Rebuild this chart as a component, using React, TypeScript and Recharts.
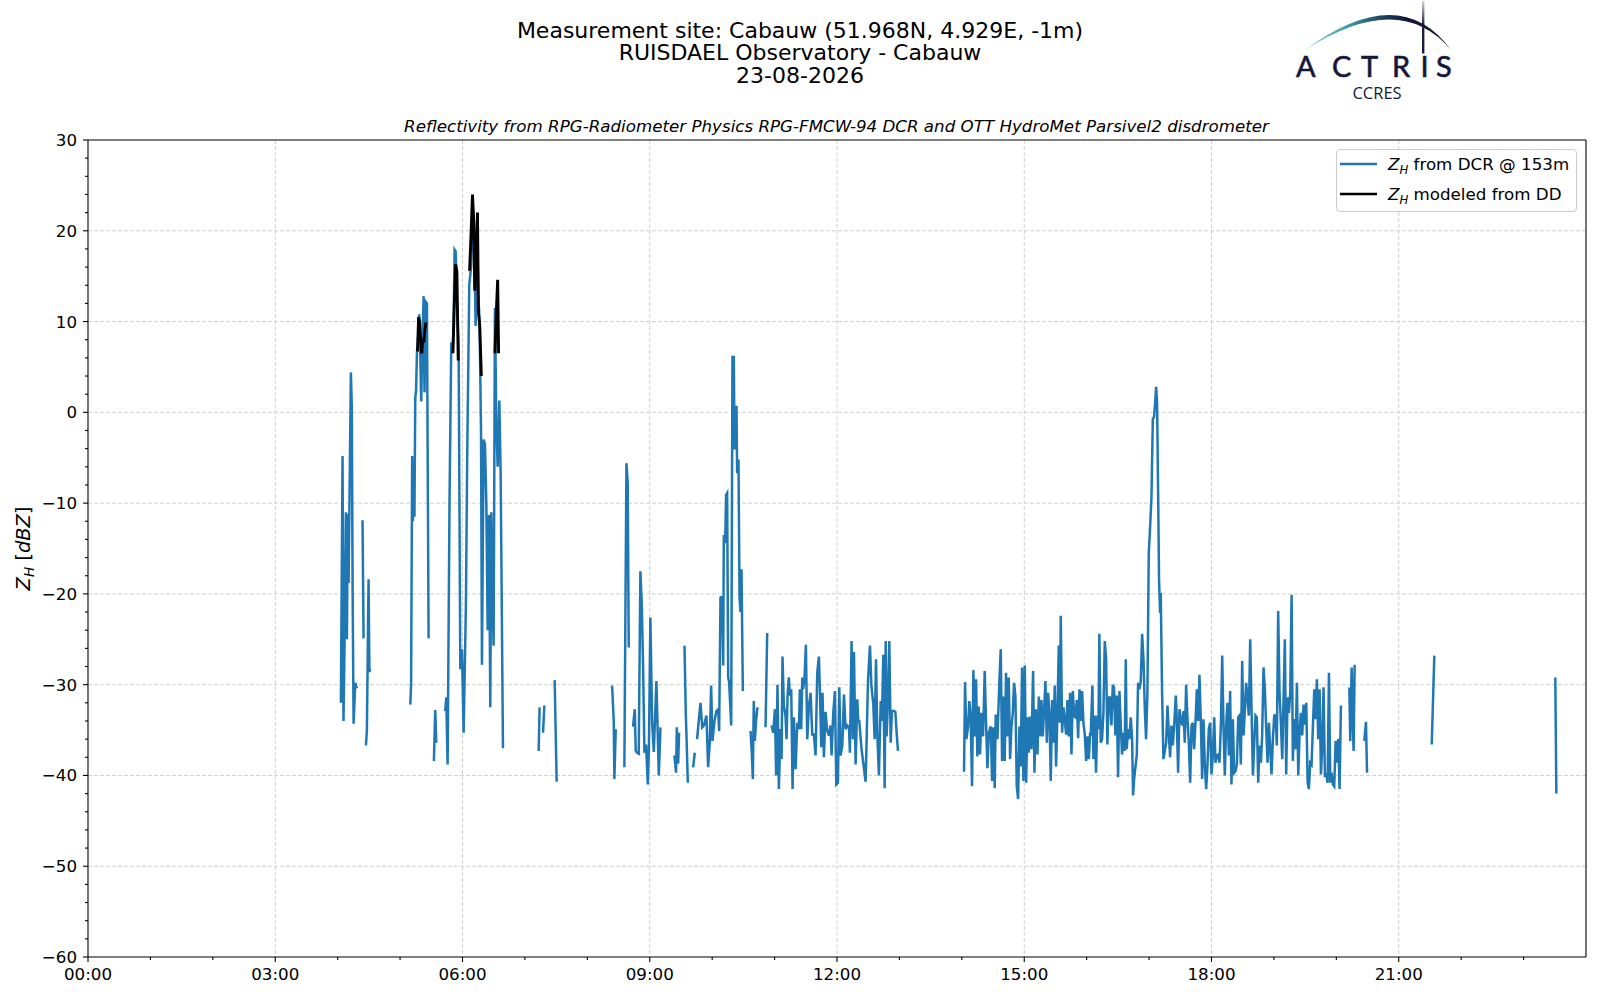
import { CartesianGrid, Legend, Line, LineChart, ReferenceLine, XAxis, YAxis } from 'recharts'

// time in minutes after 00:00 UTC, reflectivity in dBZ
const dcr0403: [number, number][] = [
  [243.1, -32], [244.7, -4.8], [245.6, -34], [246.6, -25.5], [247.9, -11], [248.9, -25], [249.7, -11.2],
  [250.5, -18.8], [252.7, 4.4], [253.6, 0.5], [254.4, -20], [255.3, -34.3], [256.9, -29.8], [258.5, -30.4],
]
const dcr0424: [number, number][] = [[263.9, -11.9], [264.9, -24.9]]
const dcr0427: [number, number][] = [[267.2, -36.7], [268.1, -35], [269.7, -18.4], [270.5, -28.6], [271.3, -28.3]]
const dcr0510: [number, number][] = [
  [309.8, -32.2], [310.6, -30], [311.6, -4.8], [312.3, -12], [313, -5.5], [313.8, -11.5], [314.6, 1.6],
  [315.4, 2.5], [316.2, 6.5], [317.2, 8], [318.4, 10.8], [319.4, 6.5], [320.3, 1.2], [321.3, 6.5],
  [322.6, 12.8], [323.5, 2.2], [324.5, 12.2], [325.8, 12], [327.4, -24.9],
]
const dcr0532: [number, number][] = [[332.5, -38.4], [333.8, -32.8], [334.8, -36.4]]
const dcr0543: [number, number][] = [
  [343.4, -32.9], [344.4, -31.4], [345.7, -38.8], [347.5, -10], [349.2, 7.7], [350.5, 6.5], [351.5, 10],
  [352.4, 17.9], [353.4, 17.7], [354.7, 12.2], [356.3, 7], [357.9, -28.3], [359.5, -26.1], [361.1, -35.3],
  [363.3, -21], [364.5, -5], [366.5, 14], [368.2, 16], [370.1, 22], [371.3, 19], [372.6, 9.5], [373.9, 21],
  [375.2, 13], [376.4, 10], [377.8, -2], [378.7, -27.8], [380.3, -3], [381.6, -3.5], [382.9, -10],
  [384.2, -24], [385.5, -11.3], [386.7, -32.5], [387.7, -11], [388.8, -20], [389.9, -25.7], [391.2, 11.5],
  [392.5, -1], [393.8, -6], [395.4, 1.3], [396.7, -7], [398.9, -37],
]
const dcr0713: [number, number][] = [[433.2, -37.3], [434.1, -32.5]]
const dcr0717: [number, number][] = [[437.4, -35.3], [438.7, -32.3]]
const dcr0728: [number, number][] = [[448.6, -29.5], [450.5, -40.7]]
const dcr0823: [number, number][] = [[503.8, -30.1], [505.4, -34], [506, -40.4], [507.3, -34.9]]
const dcr0835: [number, number][] = [[515.6, -39.1], [517.6, -5.6], [518.8, -7.8], [519.8, -25.9]]
const dcr0843: [number, number][] = [
  [523, -34.5], [524, -34.5], [525.6, -32.7], [526.5, -37.3], [527.8, -37.5], [529.4, -37.6], [531, -17.5],
  [532.3, -21], [533.6, -28], [534.9, -37.5], [536.5, -36.6], [538.1, -41], [539.2, -37], [540.6, -22.6],
  [542.3, -34.2], [543.9, -37.4], [546.4, -29.6], [548.7, -40], [550.3, -34.7],
]
const dcr0923: [number, number][] = [[563.7, -37.8], [565.3, -39.7], [566, -34.7], [567.3, -38.7], [568.2, -35.3]]
const dcr0933: [number, number][] = [[573.4, -25.7], [574.6, -33], [575.3, -35.6], [576.6, -40.8]]
const dcr0941: [number, number][] = [[581.7, -39.1], [583.3, -37.5]]
const dcr0945: [number, number][] = [
  [585.5, -36], [587.1, -34], [588.8, -32], [590.4, -34.7], [592, -34.5], [594.5, -33.4], [596.1, -39.1],
  [597.7, -36.4], [599, -30.1], [600.3, -36.2], [602.2, -34], [604.1, -32.9], [605.8, -32.7], [606.7, -35.1],
  [608, -20.4], [609.6, -20.3], [610.6, -27.9], [611.2, -13.5], [612.5, -14.4], [613.4, -9.1], [614.4, -8.9],
  [615.4, -29.2], [616.3, -29.7], [618.3, -34.5], [619.5, 6.1], [620.8, 6.1], [621.5, -4.1], [622.4, 0.6],
  [623.4, 0.6], [624, -6.7], [625.3, -5.2], [626.3, -20.3], [627.2, -22], [628.2, -17.3], [629.5, -30.7],
]
const dcr1036: [number, number][] = [
  [636.9, -35.1], [638.1, -37.5], [639.1, -40.4], [640, -31.8], [641, -36.2], [642.2, -34], [643.3, -32.7], [643.9, -32.5],
]
const dcr1051: [number, number][] = [[651.3, -34.7], [652.9, -24.3]]
const dcr1057: [number, number][] = [
  [657.1, -34.5], [658.7, -35.3], [660.3, -32.7], [661.5, -40], [662.8, -30], [664.1, -41.5], [665.7, -34.9],
  [666.7, -38.2], [667.6, -26.9], [668.9, -32.3], [670.5, -33.4], [671.5, -36], [672.5, -31.2], [673.7, -29.2],
  [674.7, -31.2], [676, -30.5], [677.3, -41.5], [678.5, -33.6], [680.2, -39.3], [681.8, -34.2], [683.4, -34.9],
  [684.3, -30.5], [685.6, -34.9], [686.6, -29.2], [687.5, -30.5], [688.8, -29.2], [690.1, -25.6], [691.4, -36],
  [693, -32.3], [694.6, -30.9], [696.2, -35.5], [697.8, -35.5], [699.4, -37.8], [701, -28.7], [702.6, -26.9],
  [703.6, -30.9], [704.9, -36.9], [706.1, -30.9], [707.4, -38], [709, -33], [710.5, -35], [712.2, -35.6],
  [713.8, -34.5], [714.8, -37.8], [716.4, -33.1], [718, -30.7], [719.3, -41], [720.9, -40.8], [722.2, -30.3],
  [723.5, -37.8], [725.1, -36.7], [726.7, -31.1], [728.3, -34.9], [729.9, -34.5], [731.5, -34.7], [732.4, -37.5],
  [734, -25.2], [735.3, -36], [736.3, -26.4], [737.9, -38.8], [739.5, -31.6], [740.4, -34], [741.4, -34],
  [743.5, -37], [747.5, -40.7], [749.8, -29.6], [751.7, -25.7], [753, -30], [754.9, -32.2], [756.2, -36],
  [757.5, -27.2], [758.7, -35.3], [760.3, -40], [762, -31.8], [763.2, -34], [764.5, -26.7], [765.8, -41.4],
  [766.8, -25.2], [767.7, -35.7], [769, -31.8], [770.3, -25.2], [771.6, -36.4], [772.8, -32.9], [774.8, -32.9],
  [776.1, -33], [777.3, -35.3], [778.6, -37.3],
]
const dcr1402: [number, number][] = [
  [842.1, -39.6], [843.1, -29.7], [844.4, -36], [846, -34.6], [847.2, -31.8], [848.5, -33.5], [849.8, -41.2],
  [851.1, -28.4], [852.4, -35.7], [853.7, -29.4], [854.9, -37.9], [856.2, -32.4], [857.5, -37.7], [858.8, -33.1],
  [860.4, -35.7], [862, -28.5], [863.3, -34.2], [864.6, -39.2], [865.9, -35.3], [867.8, -34.6], [869.1, -40.6],
  [870.3, -34.7], [871.6, -41.4], [872.6, -33.3], [874.2, -36], [876.1, -29.6], [877.4, -26.1], [878.7, -38.4],
  [880, -31.3], [881.2, -38.4], [882.5, -28.7], [883.8, -35.7], [885.1, -29.2], [886.4, -38.2], [887.7, -34.6],
  [889, -33.1], [890.2, -29.8], [891.5, -31.3], [892.8, -41.2], [894.1, -42.6], [895.4, -34.6], [896.6, -39],
  [897.9, -28.1], [899.2, -40.6], [900.5, -27.9], [901.8, -40.8], [903.1, -33.6], [904.3, -37.5], [905.6, -33.5],
  [906.9, -37.1], [908.5, -28.5], [909.8, -39.7], [911.1, -32.7], [912.7, -37.7], [914, -31.3], [915.2, -35.7],
  [916.5, -31.7], [917.8, -35.7], [919.1, -32.7], [920.4, -29.6], [921.7, -36.4], [922.9, -30.9], [924.2, -33.1],
  [925.5, -40.6], [926.8, -31.7], [928.1, -36.4], [929.3, -30.1], [930.6, -39], [931.9, -33.1], [933.2, -25.7],
  [934.2, -34.2], [935.1, -22.4], [936.4, -35.3], [937.7, -32.5], [939, -34], [940.3, -35.5], [941.5, -31.7],
  [942.8, -35.7], [944.1, -30.9], [945.4, -37.7], [946.7, -30.7], [948, -33.5], [949.2, -33.6], [950.5, -31.7],
  [951.8, -35.9], [953.1, -30.5], [954.4, -34], [955.6, -30.7], [956.9, -34.2], [958.2, -35.5], [959.5, -38.4],
  [960.8, -35.7], [962.1, -38.2], [963.3, -35.3], [963.9, -35.6], [965.5, -30.1], [966.5, -38.2], [967.7, -33.4],
  [969, -39.7], [970.3, -33.4], [971.3, -34.9], [972.2, -24.4], [973.5, -36.4], [974.8, -36], [976.1, -33.1],
  [977.4, -25.2], [978.7, -27.2], [979.9, -36.6], [981.2, -31.4], [982.5, -31.4], [983.8, -34.5], [985.1, -30],
  [986.3, -30.3], [987.6, -35.6], [988.9, -31.2], [990.2, -40.2], [991.5, -30.7], [992.8, -34.5], [994, -37.7],
  [995.3, -35.3], [996.6, -37.3], [997.6, -27.2], [998.5, -37.1], [999.8, -34.9], [1001.1, -36], [1002.4, -33.6],
  [1003.7, -36], [1004.6, -42.2], [1005.6, -40.4], [1008.2, -37.7], [1009.4, -29.8], [1010.7, -30.5], [1012, -29.6],
  [1013.3, -24.4], [1014.6, -27.2], [1015.9, -32.7], [1017.1, -36], [1018.4, -30.9], [1019.7, -15.5], [1021, -12.6],
  [1022.3, -9.3], [1023.6, -0.7], [1024.8, -0.5], [1025.8, 1], [1026.8, 2.8], [1027.7, 1], [1028.7, -8.9],
  [1029.6, -18.6], [1030.6, -22.1], [1031.2, -19.9], [1032.5, -30.9], [1033.8, -38.2], [1035.1, -37.3],
  [1036.4, -36.4], [1037.7, -32.3], [1038.9, -35.3], [1040.2, -38], [1041.5, -34.5], [1042.8, -36.7],
  [1044.1, -34.5], [1045.7, -31.2], [1046.6, -33.8], [1047.9, -39.7], [1049.2, -32.7], [1050.5, -33.8],
  [1051.8, -34.5], [1053.1, -32.9], [1054.3, -36.4], [1055.6, -30], [1056.9, -33.8], [1058.2, -36.4],
  [1059.5, -40.8], [1060.8, -34.5], [1062, -34.2], [1063.3, -37.1], [1064.6, -34.2], [1065.9, -30.5],
  [1067.2, -34], [1068.4, -28.9], [1069.7, -33.8], [1071, -40.4], [1072.3, -33.8], [1073.6, -38.9],
  [1074.9, -41.5], [1076.1, -38.9], [1077.4, -34.9], [1078.7, -34.2], [1080, -39.9], [1081.3, -37.7],
  [1082.6, -33.6], [1083.8, -38.6], [1085.1, -37.8], [1086.4, -37.7], [1087.7, -38.6], [1089, -34.5],
  [1090.3, -26.8], [1091.5, -34.5], [1092.8, -40], [1094.1, -34.4], [1095.4, -32], [1096.7, -37.8],
  [1097.9, -30.7], [1099.2, -41], [1100.5, -33.8], [1101.8, -39.7], [1103.1, -39.5], [1104.4, -38.8],
  [1105.7, -33.6], [1106.9, -33.4], [1108.2, -38.8], [1109.5, -27.4], [1110.8, -35.6], [1112.1, -32.7],
  [1113.3, -29.8], [1114.6, -31.6], [1115.9, -33.4], [1117.2, -25], [1118.5, -32.7], [1119.8, -40],
  [1121, -36.7], [1122.3, -33.4], [1123.6, -33.6], [1124.9, -40.8], [1126.2, -36.7], [1127.5, -38.6],
  [1128.7, -35.6], [1130, -28.1], [1131.3, -30.5], [1132.6, -34.9], [1133.9, -38.6], [1135.2, -34.2],
  [1136.4, -36.9], [1137.7, -39.9], [1139, -36], [1140.3, -33.4], [1141.6, -33.4], [1142.8, -36.7],
  [1144.1, -21.9], [1145.4, -30.9], [1146.7, -34.2], [1148, -38.2], [1149.3, -31.4], [1150.5, -25],
  [1151.8, -39.9], [1153.1, -31.4], [1154.4, -33.1], [1155.7, -30.9], [1157, -20.1], [1158.2, -38.4],
  [1159.5, -33.8], [1160.8, -37.1], [1162.1, -29.8], [1163.4, -40], [1164.7, -35.3], [1165.9, -33.1],
  [1167.2, -35.6], [1168.5, -32.2], [1169.8, -34.4], [1171.1, -32], [1172.4, -40.8], [1173.6, -41.5],
  [1174.9, -38.6], [1176.2, -38.8], [1177.5, -34.5], [1178.8, -30.5], [1180.1, -33.8], [1181.3, -29.4],
  [1182.6, -36], [1183.9, -30.5], [1185.2, -39.9], [1186.5, -36.7], [1187.7, -30.3], [1189, -40],
  [1190.3, -39.9], [1191.6, -40.8], [1192.9, -28.7], [1194.2, -40.8], [1195.4, -39.7], [1196.7, -41],
  [1198, -41.2], [1199.3, -36.2], [1200.6, -38.6], [1201.9, -36], [1203.1, -41.5], [1204.4, -32.3],
]
const dcr2012: [number, number][] = [[1212.5, -30.3], [1213.4, -36.2], [1214.7, -28.1], [1215.7, -33.4], [1216.6, -37.3], [1217.6, -27.8]]
const dcr2027: [number, number][] = [[1226.9, -36.2], [1228.5, -34.1], [1229.5, -39.7]]
const dcr2132: [number, number][] = [[1291.7, -36.6], [1294.2, -26.8]]
const dcr2330: [number, number][] = [[1410.5, -29.2], [1411.5, -42]]

const dd0517: [number, number][] = [
  [316.8, 6.7], [317.8, 10.5], [318.8, 10], [319.8, 8], [320.8, 6.5], [321.8, 8.1], [322.8, 7.7], [323.8, 9], [324.8, 9.9],
]
const dd0551: [number, number][] = [[350.8, 6.5], [352.2, 12.2], [353.4, 16.3], [354.6, 15.5], [355.9, 5.7]]
const dd0607: [number, number][] = [
  [366.8, 15.6], [368.2, 19.6], [369.6, 24], [370.6, 21.6], [371.8, 13.4], [373.1, 17.5], [374.4, 22], [375.3, 11],
  [376.6, 9.5], [378.1, 4],
]
const dd0631: [number, number][] = [[391.2, 6.5], [392.5, 11], [393.8, 14.6], [394.7, 6.5]]

const xTicks = Array.from({ length: 24 }, (_, h) => h * 60)
const xGrid = [180, 360, 540, 720, 900, 1080, 1260]
const yTicks = Array.from({ length: 46 }, (_, i) => -60 + i * 2)
const yGrid = [-50, -40, -30, -20, -10, 0, 10, 20]

const FONT = '"DejaVu Sans", sans-serif'
const BLUE = '#1f77b4'
const NAVY = '#15173a'

function joinSegments(segs: [number, number][][]) {
  const out: { t: number; v: number | null }[] = []
  segs.forEach((seg) => {
    seg.forEach(([t, v]) => out.push({ t, v }))
    out.push({ t: seg[seg.length - 1][0] + 0.05, v: null })
  })
  return out
}

const dcrData = joinSegments([
  dcr0403, dcr0424, dcr0427, dcr0510, dcr0532, dcr0543, dcr0713, dcr0717, dcr0728, dcr0823, dcr0835, dcr0843,
  dcr0923, dcr0933, dcr0941, dcr0945, dcr1036, dcr1051, dcr1057, dcr1402, dcr2012, dcr2027, dcr2132, dcr2330,
])
const ddData = joinSegments([dd0517, dd0551, dd0607, dd0631])

const hhmm = (m: number) => `${String(Math.floor(m / 60)).padStart(2, '0')}:00`

function XTick(props: any) {
  const { x, y, payload } = props
  const axisY = y - 8
  const major = payload.value % 180 === 0
  return (
    <g>
      <line x1={x} x2={x} y1={axisY} y2={axisY + (major ? 5 : 3)} stroke="#000" strokeWidth={1.1} />
      {major && (
        <text x={x} y={axisY + 22.5} textAnchor="middle" fontSize={16.7} fontFamily={FONT} fill="#000">
          {hhmm(payload.value)}
        </text>
      )}
    </g>
  )
}

function YTick(props: any) {
  const { x, y, payload } = props
  const axisX = x + 8
  const major = payload.value % 10 === 0
  const label = payload.value < 0 ? `\u2212${Math.abs(payload.value)}` : `${payload.value}`
  return (
    <g>
      <line x1={axisX - (major ? 5 : 3)} x2={axisX} y1={y} y2={y} stroke="#000" strokeWidth={1.1} />
      {major && (
        <text x={axisX - 11} y={y + 6} textAnchor="end" fontSize={16.7} fontFamily={FONT} fill="#000">
          {label}
        </text>
      )}
    </g>
  )
}

function LegendBox() {
  const rows = [
    { color: BLUE, text: ' from DCR @ 153m' },
    { color: '#000', text: ' modeled from DD' },
  ]
  return (
    <div
      style={{
        width: 241,
        height: 63,
        boxSizing: 'border-box',
        border: '1px solid #cccccc',
        borderRadius: 4,
        background: 'rgba(255,255,255,0.8)',
      }}
    >
      <svg width={239} height={61} style={{ display: 'block' }}>
        {rows.map((r, i) => (
          <g key={i}>
            <line x1={3} x2={40} y1={14 + i * 30} y2={14 + i * 30} stroke={r.color} strokeWidth={2.6} />
            <text x={51} y={20 + i * 30} fontSize={16.7} fontFamily={FONT} fill="#000">
              <tspan fontStyle="italic">Z</tspan>
              <tspan fontStyle="italic" fontSize={11.7} dy={4}>H</tspan>
              <tspan dy={-4}>{r.text}</tspan>
            </text>
          </g>
        ))}
      </svg>
    </div>
  )
}

function Header() {
  return (
    <svg
      width={1600}
      height={1000}
      style={{ position: 'absolute', left: 0, top: 0, pointerEvents: 'none' }}
    >
      <defs>
        <linearGradient id="arcGrad" x1="1306" y1="0" x2="1450" y2="0" gradientUnits="userSpaceOnUse">
          <stop offset="0" stopColor="#7ccfc8" />
          <stop offset="0.3" stopColor="#3e9aa3" />
          <stop offset="0.55" stopColor="#1d3a5a" />
          <stop offset="0.7" stopColor={NAVY} />
          <stop offset="1" stopColor={NAVY} />
        </linearGradient>
        <linearGradient id="poleGrad" x1="0" y1="0" x2="0" y2="54" gradientUnits="userSpaceOnUse">
          <stop offset="0" stopColor={NAVY} stopOpacity={0.15} />
          <stop offset="0.45" stopColor={NAVY} stopOpacity={0.95} />
          <stop offset="1" stopColor={NAVY} />
        </linearGradient>
      </defs>
      <g fontFamily={FONT} fill="#000" textAnchor="middle">
        <text x={800} y={37.5} fontSize={22}>Measurement site: Cabauw (51.968N, 4.929E, -1m)</text>
        <text x={800} y={60} fontSize={22}>RUISDAEL Observatory - Cabauw</text>
        <text x={800} y={82.5} fontSize={22}>23-08-2026</text>
        <text x={836.5} y={131.5} fontSize={16.7} fontStyle="italic">
          Reflectivity from RPG-Radiometer Physics RPG-FMCW-94 DCR and OTT HydroMet Parsivel2 disdrometer
        </text>
        <text x={30} y={548.5} fontSize={19.4} transform="rotate(-90 30 548.5)">
          <tspan fontStyle="italic">Z</tspan>
          <tspan fontStyle="italic" fontSize={13.6} dy={4}>H</tspan>
          <tspan dy={-4}> [</tspan>
          <tspan fontStyle="italic">dBZ</tspan>
          <tspan>]</tspan>
        </text>
      </g>
      <path d="M1305 50 Q1400 -20 1451 50 Q1400 -11 1305 50 Z" fill="url(#arcGrad)" />
      <rect x={1422} y={1} width={2.4} height={52.5} fill="url(#poleGrad)" />
      <g fontFamily='Lato, "Open Sans", sans-serif' fontSize={29} fill={NAVY} stroke={NAVY} strokeWidth={0.6}>
        <text x={1296} y={77.3}>A</text>
        <text x={1332} y={77.3}>C</text>
        <text x={1361} y={77.3}>T</text>
        <text x={1392} y={77.3}>R</text>
        <text x={1420.5} y={77.3}>I</text>
        <text x={1436} y={77.3}>S</text>
      </g>
      <text x={1377} y={98.5} fontSize={16.5} fontFamily='"Open Sans", sans-serif' fill={NAVY} textAnchor="middle">
        CCRES
      </text>
    </svg>
  )
}

export default function App() {
  return (
    <div style={{ position: 'absolute', left: 0, top: 0, width: 1600, height: 1000, background: '#fff' }}>
      <LineChart width={1600} height={1000} margin={{ top: 140, right: 14, bottom: 0, left: 0 }}>
        <CartesianGrid
          stroke="#d0d0d0"
          strokeDasharray="4 2"
          verticalValues={xGrid}
          horizontalValues={yGrid}
        />
        <XAxis
          type="number"
          dataKey="t"
          domain={[0, 1440]}
          ticks={xTicks}
          interval={0}
          allowDataOverflow
          height={43}
          tickSize={5}
          tickMargin={3}
          tickLine={false}
          axisLine={{ stroke: '#000', strokeWidth: 1.1 }}
          tick={(p: any) => <XTick {...p} />}
        />
        <YAxis
          type="number"
          domain={[-60, 30]}
          ticks={yTicks}
          interval={0}
          allowDataOverflow
          width={88}
          tickSize={5}
          tickMargin={3}
          tickLine={false}
          axisLine={{ stroke: '#000', strokeWidth: 1.1 }}
          tick={(p: any) => <YTick {...p} />}
        />
        <ReferenceLine y={30} stroke="#000" strokeWidth={1.1} />
        <ReferenceLine x={1440} stroke="#000" strokeWidth={1.1} />
        <Line
          data={dcrData}
          dataKey="v"
          name="dcr"
          type="linear"
          stroke={BLUE}
          strokeWidth={2.5}
          dot={false}
          activeDot={false}
          isAnimationActive={false}
        />
        <Line
          data={ddData}
          dataKey="v"
          name="dd"
          type="linear"
          stroke="#000"
          strokeWidth={2.9}
          dot={false}
          activeDot={false}
          isAnimationActive={false}
        />
        <Legend
          layout="horizontal"
          verticalAlign="middle"
          align="center"
          wrapperStyle={{ left: 1336, top: 149, width: 241, height: 63 }}
          content={() => <LegendBox />}
        />
      </LineChart>
      <Header />
    </div>
  )
}
